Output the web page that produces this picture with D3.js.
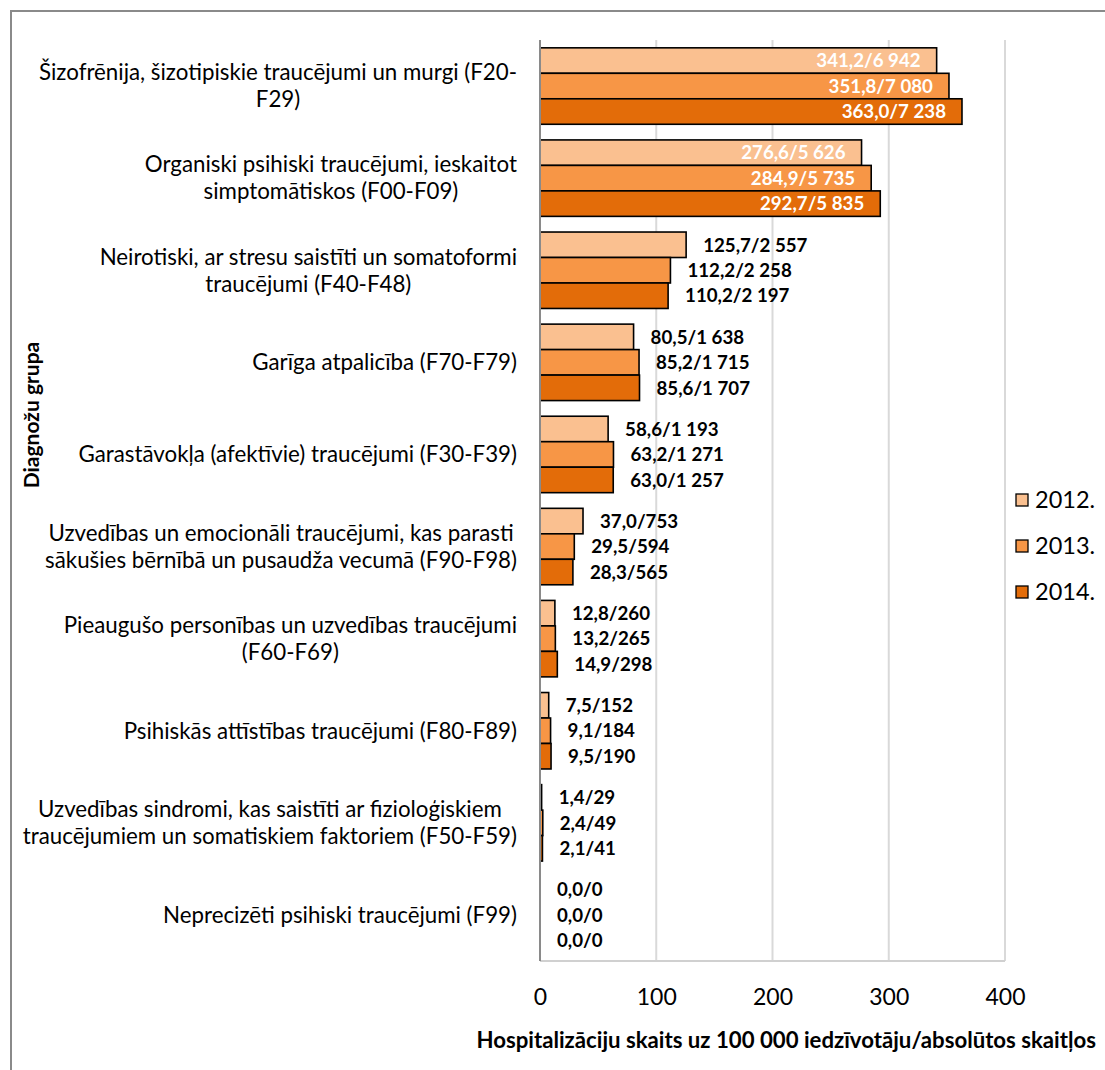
<!DOCTYPE html>
<html>
<head>
<meta charset="utf-8">
<script src="https://cdn.jsdelivr.net/npm/d3@7"></script>
<style>
  html, body { margin: 0; padding: 0; background: #fff; }
  svg { display: block; }
  text { font-family: Lato, "Open Sans", "Liberation Sans", sans-serif; }
</style>
</head>
<body>
<svg id="chart" width="1105" height="1070"></svg>
<script>
// Diagnosis groups (label lines as they wrap on the axis)
const categories = [
  ["Šizofrēnija, šizotipiskie traucējumi un murgi (F20-", "F29)"],
  ["Organiski psihiski traucējumi, ieskaitot", "simptomātiskos (F00-F09)"],
  ["Neirotiski, ar stresu saistīti un somatoformi", "traucējumi (F40-F48)"],
  ["Garīga atpalicība (F70-F79)"],
  ["Garastāvokļa (afektīvie) traucējumi (F30-F39)"],
  ["Uzvedības un emocionāli traucējumi, kas parasti", "sākušies bērnībā un pusaudža vecumā (F90-F98)"],
  ["Pieaugušo personības un uzvedības traucējumi", "(F60-F69)"],
  ["Psihiskās attīstības traucējumi (F80-F89)"],
  ["Uzvedības sindromi, kas saistīti ar fizioloģiskiem", "traucējumiem un somatiskiem faktoriem (F50-F59)"],
  ["Neprecizēti psihiski traucējumi (F99)"]
];

const years = ["2012.", "2013.", "2014."];

// Hospitalisations per 100 000 inhabitants
const rate2012 = [341.2, 276.6, 125.7, 80.5, 58.6, 37.0, 12.8, 7.5, 1.4, 0.0];
const rate2013 = [351.8, 284.9, 112.2, 85.2, 63.2, 29.5, 13.2, 9.1, 2.4, 0.0];
const rate2014 = [363.0, 292.7, 110.2, 85.6, 63.0, 28.3, 14.9, 9.5, 2.1, 0.0];

// Absolute numbers of hospitalisations
const count2012 = [6942, 5626, 2557, 1638, 1193, 753, 260, 152, 29, 0];
const count2013 = [7080, 5735, 2258, 1715, 1271, 594, 265, 184, 49, 0];
const count2014 = [7238, 5835, 2197, 1707, 1257, 565, 298, 190, 41, 0];

const xTicks = [0, 100, 200, 300, 400];

const colors = ["#FAC090", "#F79646", "#E36C09"];

const rates = [rate2012, rate2013, rate2014];
const counts = [count2012, count2013, count2014];

const svg = d3.select("#chart");

// Outer chart frame
svg.append("rect")
  .attr("x", 11).attr("y", 11)
  .attr("width", 1110).attr("height", 1080)
  .attr("fill", "#fff")
  .attr("stroke", "#8a8a8a").attr("stroke-width", 2);

const plot = { left: 540, right: 1005, top: 40, bottom: 961 };

const x = d3.scaleLinear().domain([0, 400]).range([plot.left, plot.right]);
const y = d3.scaleBand()
  .domain(d3.range(categories.length))
  .range([plot.top, plot.bottom])
  .paddingInner(0.17).paddingOuter(0.085);
const ySub = d3.scaleBand().domain(d3.range(years.length)).range([0, y.bandwidth()]);

// Vertical gridlines
svg.append("g").selectAll("line")
  .data(xTicks.filter(t => t > 0))
  .join("line")
  .attr("x1", d => x(d)).attr("x2", d => x(d))
  .attr("y1", plot.top).attr("y2", plot.bottom)
  .attr("stroke", "#d9d9d9").attr("stroke-width", 2);

// Bottom edge of the plot area
svg.append("line")
  .attr("x1", plot.left).attr("x2", plot.right)
  .attr("y1", plot.bottom).attr("y2", plot.bottom)
  .attr("stroke", "#d0d0d0").attr("stroke-width", 2);

// X tick labels through a bottom axis (no domain / tick marks)
const xAxis = svg.append("g")
  .attr("transform", `translate(0,${plot.bottom + 36})`)
  .call(d3.axisBottom(x).tickValues(xTicks).tickSize(0).tickFormat(d3.format("d")));
xAxis.select(".domain").remove();
xAxis.selectAll("text")
  .attr("dy", "0.35em").attr("y", 0)
  .style("font-family", "Lato, 'Open Sans', sans-serif")
  .style("font-size", "23px").attr("fill", "#000");

// Bars
const rows = [];
categories.forEach((c, i) => {
  years.forEach((yr, s) => rows.push({ i, s, v: rates[s][i], n: counts[s][i] }));
});

svg.append("g").selectAll("rect")
  .data(rows)
  .join("rect")
  .attr("x", x(0))
  .attr("y", d => y(d.i) + ySub(d.s))
  .attr("width", d => x(d.v) - x(0))
  .attr("height", ySub.bandwidth())
  .attr("fill", d => colors[d.s])
  .attr("stroke", "#000").attr("stroke-width", 1.6);

// Vertical axis line
svg.append("line")
  .attr("x1", plot.left).attr("x2", plot.left)
  .attr("y1", plot.top).attr("y2", plot.bottom)
  .attr("stroke", "#8a8a8a").attr("stroke-width", 2);

// Value labels: "rate/count" in Latvian number format
const fmtRate = v => v.toFixed(1).replace(".", ",");
const fmtCount = n => String(n).replace(/\B(?=(\d{3})+(?!\d))/g, "\u00A0");
const inside = d => d.v > 250;

svg.append("g").selectAll("text")
  .data(rows)
  .join("text")
  .attr("x", d => inside(d) ? x(d.v) - 16 : x(d.v) + 17)
  .attr("y", d => y(d.i) + ySub(d.s) + ySub.bandwidth() / 2)
  .attr("dy", "0.36em")
  .attr("text-anchor", d => inside(d) ? "end" : "start")
  .attr("fill", d => inside(d) ? "#fff" : "#000")
  .style("font-size", "18.7px").style("font-weight", "bold")
  .text(d => `${fmtRate(d.v)}/${fmtCount(d.n)}`);

// Category labels: lines centred on each other, block right-aligned to the axis
const labelRight = 517;
const lineH = 27;
const catG = svg.append("g");
categories.forEach((lines, i) => {
  const cy = y(i) + y.bandwidth() / 2;
  const t = catG.append("text")
    .style("font-size", "22.3px").attr("fill", "#000")
    .attr("text-anchor", "middle");
  const spans = lines.map((ln, k) => t.append("tspan")
    .attr("y", cy + (k - (lines.length - 1) / 2) * lineH)
    .attr("dy", "0.35em")
    .text(ln));
  const maxW = d3.max(spans, sp => sp.node().getComputedTextLength());
  spans.forEach(sp => sp.attr("x", labelRight - maxW / 2));
});

// Axis titles
svg.append("text")
  .attr("x", 1096).attr("y", 1040).attr("dy", "0.35em")
  .attr("text-anchor", "end")
  .style("font-size", "22.2px").style("font-weight", "bold")
  .text("Hospitalizāciju skaits uz 100 000 iedzīvotāju/absolūtos skaitļos");

svg.append("text")
  .attr("transform", "translate(32,415) rotate(-90)")
  .attr("text-anchor", "middle").attr("dy", "0.35em")
  .style("font-size", "21px").style("font-weight", "bold")
  .text("Diagnožu grupa");

// Legend
const legend = svg.append("g").selectAll("g")
  .data(years)
  .join("g")
  .attr("transform", (d, k) => `translate(1016,${500 + k * 46})`);
legend.append("rect")
  .attr("x", 0).attr("y", -6).attr("width", 12).attr("height", 12)
  .attr("fill", (d, k) => colors[k])
  .attr("stroke", "#000").attr("stroke-width", 1.3);
legend.append("text")
  .attr("x", 19).attr("dy", "0.35em")
  .style("font-size", "23.5px")
  .text(d => d);
</script>
</body>
</html>
